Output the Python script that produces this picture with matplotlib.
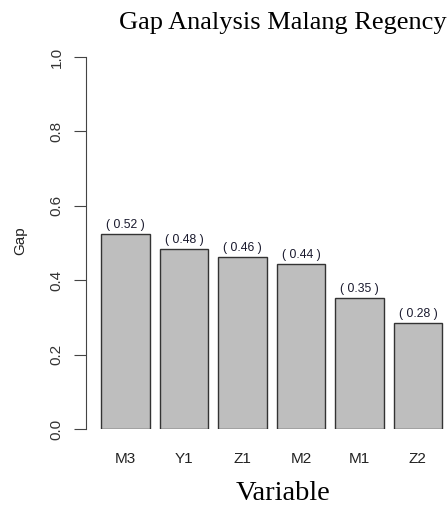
import numpy as np
import matplotlib
matplotlib.use('Agg')
import matplotlib.pyplot as plt

# data
variables = ['M3', 'Y1', 'Z1', 'M2', 'M1', 'Z2']
gaps      = [0.525, 0.485, 0.462, 0.443, 0.353, 0.284]
gap_text  = ['( 0.52 )', '( 0.48 )', '( 0.46 )', '( 0.44 )', '( 0.35 )', '( 0.28 )']
yticks    = [0.0, 0.2, 0.4, 0.6, 0.8, 1.0]

W, H = 447, 511
fig = plt.figure(figsize=(W / 100, H / 100), dpi=100)

# axes placed in pixel terms (R style barplot, width 1, space 0.2)
left_px, right_px = 86, 447
top_px, bot_px = 57, 429
ax = fig.add_axes([left_px / W, 1 - bot_px / H, (right_px - left_px) / W, (bot_px - top_px) / H])

x = 0.2 + np.arange(len(variables)) * 1.2 + 0.5
bars = ax.bar(x, gaps, width=1.0, color='#bebebe', edgecolor='#333333', linewidth=1.0)

for xi, g, t in zip(x, gaps, gap_text):
    ax.text(xi, g + 0.008, t, ha='center', va='bottom', fontsize=8.8,
            color='#1a1a2e', family='Liberation Sans')

ax.set_xlim(-0.108, 7.297)
ax.set_ylim(0, 1)

for s in ['top', 'right', 'bottom']:
    ax.spines[s].set_visible(False)
ax.spines['left'].set_color('#444444')
ax.spines['left'].set_bounds(0, 1)

ax.set_yticks(yticks)
ax.set_yticklabels(['%.1f' % v for v in yticks], rotation=90, va='center',
                   fontsize=11, color='#333333', family='Liberation Sans')
ax.tick_params(axis='y', length=9, color='#444444', pad=7)

ax.set_xticks(x)
ax.set_xticklabels(variables, fontsize=11, color='#222222', family='Liberation Sans')
ax.tick_params(axis='x', length=0, pad=16.5)

fig.text(283 / W, 1 - 23 / H, 'Gap Analysis Malang Regency', ha='center', va='center',
         fontsize=19, family='Liberation Serif')
fig.text(283 / W, 1 - 494 / H, 'Variable', ha='center', va='center',
         fontsize=20.5, family='Liberation Serif')
fig.text(20 / W, 1 - 241 / H, 'Gap', ha='center', va='center', rotation=90,
         fontsize=11, family='Liberation Sans', color='#222222')

plt.savefig('out.png', dpi=100)
